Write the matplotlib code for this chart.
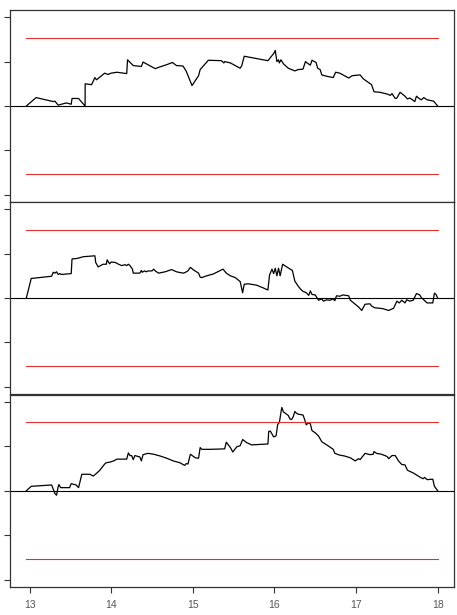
import matplotlib.pyplot as plt
import numpy as np

font = 'Liberation Sans'

# panel 1 process
t1 = [12.96, 13.08, 13.29, 13.31, 13.35, 13.45, 13.51, 13.52, 13.60, 13.68, 13.681,
      13.76, 13.80, 13.82, 13.92, 13.96, 14.00, 14.07, 14.19, 14.20, 14.27, 14.37,
      14.39, 14.45, 14.54, 14.58, 14.68, 14.75, 14.80, 14.88, 14.92, 14.99, 15.07,
      15.09, 15.19, 15.35, 15.38, 15.39, 15.46, 15.54, 15.58, 15.60, 15.63, 15.92,
      15.99, 16.01, 16.03, 16.05, 16.06, 16.08, 16.11, 16.17, 16.25, 16.29, 16.35,
      16.38, 16.40, 16.44, 16.46, 16.51, 16.53, 16.56, 16.58, 16.64, 16.72, 16.75,
      16.80, 16.91, 16.95, 16.99, 17.05, 17.09, 17.19, 17.22, 17.29, 17.38, 17.42,
      17.44, 17.48, 17.50, 17.54, 17.60, 17.63, 17.66, 17.72, 17.74, 17.78, 17.80,
      17.83, 17.87, 17.95, 18.00]
y1 = [0.00, 0.19, 0.10, 0.11, 0.02, 0.07, 0.04, 0.17, 0.17, 0.00, 0.50,
      0.48, 0.64, 0.59, 0.74, 0.71, 0.74, 0.76, 0.73, 1.04, 0.91, 0.89,
      0.99, 0.93, 0.84, 0.87, 0.93, 0.98, 0.91, 0.90, 0.78, 0.46, 0.68,
      0.82, 1.03, 1.02, 0.97, 1.00, 0.97, 0.89, 0.85, 0.91, 1.12, 1.02,
      1.18, 1.25, 1.00, 1.04, 0.97, 1.04, 0.95, 0.85, 0.79, 0.82, 0.83,
      1.00, 0.97, 0.92, 1.03, 0.98, 0.85, 0.82, 0.70, 0.67, 0.64, 0.76,
      0.74, 0.63, 0.68, 0.69, 0.70, 0.61, 0.48, 0.32, 0.31, 0.27, 0.24,
      0.28, 0.17, 0.18, 0.31, 0.22, 0.16, 0.18, 0.10, 0.22, 0.16, 0.14,
      0.19, 0.14, 0.11, 0.00]

# panel 2 process
t2 = [12.96, 13.02, 13.27, 13.29, 13.31, 13.33, 13.35, 13.37, 13.39, 13.51, 13.52,
      13.58, 13.66, 13.80, 13.81, 13.84, 13.90, 13.94, 13.95, 13.98, 14.00, 14.05,
      14.09, 14.13, 14.17, 14.19, 14.21, 14.23, 14.26, 14.27, 14.35, 14.37, 14.38,
      14.41, 14.43, 14.45, 14.50, 14.52, 14.54, 14.58, 14.66, 14.74, 14.80, 14.88,
      14.90, 14.94, 14.97, 15.01, 15.07, 15.09, 15.11, 15.17, 15.25, 15.37, 15.41,
      15.46, 15.52, 15.56, 15.58, 15.61, 15.63, 15.68, 15.78, 15.86, 15.92, 15.94,
      15.97, 15.99, 16.01, 16.03, 16.05, 16.07, 16.10, 16.15, 16.22, 16.25, 16.29,
      16.32, 16.35, 16.39, 16.42, 16.44, 16.46, 16.50, 16.52, 16.54, 16.58, 16.60,
      16.64, 16.68, 16.72, 16.74, 16.76, 16.80, 16.84, 16.91, 16.93, 16.97, 17.03,
      17.07, 17.11, 17.17, 17.19, 17.23, 17.29, 17.33, 17.40, 17.46, 17.50, 17.53,
      17.56, 17.60, 17.62, 17.66, 17.70, 17.74, 17.78, 17.80, 17.87, 17.94, 17.96,
      17.98, 18.00]
y2 = [0.00, 0.44, 0.49, 0.58, 0.56, 0.59, 0.53, 0.55, 0.53, 0.55, 0.88,
      0.89, 0.93, 0.95, 0.80, 0.70, 0.76, 0.76, 0.86, 0.77, 0.81, 0.80,
      0.76, 0.73, 0.75, 0.73, 0.76, 0.73, 0.65, 0.56, 0.56, 0.62, 0.58,
      0.61, 0.59, 0.61, 0.61, 0.65, 0.61, 0.56, 0.59, 0.64, 0.59, 0.56,
      0.57, 0.61, 0.69, 0.63, 0.56, 0.47, 0.46, 0.50, 0.54, 0.65, 0.56,
      0.50, 0.46, 0.40, 0.37, 0.12, 0.31, 0.32, 0.29, 0.23, 0.18, 0.52,
      0.65, 0.55, 0.67, 0.50, 0.67, 0.50, 0.76, 0.70, 0.62, 0.38, 0.27,
      0.20, 0.15, 0.12, 0.06, 0.16, 0.08, 0.07, 0.01, -0.05, -0.02, -0.07,
      -0.04, -0.05, -0.02, -0.06, 0.05, 0.04, 0.07, 0.05, -0.05, -0.11, -0.20,
      -0.28, -0.14, -0.13, -0.18, -0.22, -0.23, -0.24, -0.28, -0.23, -0.07, -0.11,
      -0.05, -0.11, -0.04, -0.07, -0.05, 0.10, 0.07, 0.01, -0.11, -0.11, 0.11,
      0.08, 0.00]

# panel 3 process
t3 = [12.96, 13.02, 13.27, 13.31, 13.33, 13.35, 13.36, 13.38, 13.49, 13.51, 13.57,
      13.60, 13.64, 13.66, 13.74, 13.78, 13.82, 13.86, 13.92, 13.94, 13.98, 14.03,
      14.07, 14.19, 14.21, 14.23, 14.25, 14.27, 14.29, 14.35, 14.37, 14.39, 14.45,
      14.52, 14.60, 14.68, 14.76, 14.84, 14.90, 14.92, 14.94, 14.97, 15.03, 15.07,
      15.09, 15.11, 15.21, 15.39, 15.41, 15.46, 15.49, 15.54, 15.58, 15.61, 15.66,
      15.72, 15.92, 15.93, 15.95, 15.99, 16.02, 16.04, 16.06, 16.09, 16.11, 16.17,
      16.19, 16.21, 16.23, 16.25, 16.27, 16.29, 16.35, 16.37, 16.39, 16.42, 16.44,
      16.46, 16.50, 16.54, 16.58, 16.64, 16.72, 16.74, 16.80, 16.86, 16.93, 16.99,
      17.03, 17.05, 17.11, 17.17, 17.21, 17.22, 17.25, 17.31, 17.38, 17.40, 17.44,
      17.48, 17.52, 17.56, 17.60, 17.63, 17.70, 17.78, 17.82, 17.84, 17.87, 17.94,
      17.96, 18.00]
y3 = [0.00, 0.10, 0.13, -0.06, -0.10, 0.09, 0.14, 0.07, 0.07, 0.16, 0.13,
      0.07, 0.37, 0.37, 0.37, 0.33, 0.39, 0.46, 0.60, 0.63, 0.64, 0.67,
      0.71, 0.71, 0.85, 0.79, 0.79, 0.70, 0.79, 0.76, 0.67, 0.81, 0.84,
      0.82, 0.78, 0.73, 0.67, 0.63, 0.57, 0.61, 0.60, 0.82, 0.74, 0.73,
      0.97, 0.93, 0.93, 0.94, 1.09, 0.97, 0.87, 0.99, 1.01, 1.15, 1.08,
      1.03, 1.05, 1.33, 1.34, 1.21, 1.23, 1.49, 1.53, 1.87, 1.77, 1.69,
      1.61, 1.60, 1.66, 1.78, 1.74, 1.72, 1.70, 1.60, 1.48, 1.53, 1.50,
      1.35, 1.30, 1.23, 1.10, 1.03, 0.93, 0.84, 0.80, 0.78, 0.74, 0.67,
      0.72, 0.70, 0.84, 0.81, 0.82, 0.88, 0.84, 0.82, 0.77, 0.72, 0.79,
      0.79, 0.67, 0.59, 0.58, 0.46, 0.40, 0.31, 0.27, 0.30, 0.25, 0.26,
      0.10, 0.00]

boundary = 1.54
series = [(t1, y1), (t2, y2), (t3, y3)]
xticks = [13, 14, 15, 16, 17, 18]
yticks = [-2, -1, 0, 1, 2]

fig = plt.figure(figsize=(4.57, 6.15), dpi=100)
left, width = 10 / 457, 444 / 457
bottoms = [0.6715, 0.3593, 0.0455]
heights = [0.3122, 0.3122, 0.3130]

for i, (t, y) in enumerate(series):
    ax = fig.add_axes([left, bottoms[i], width, heights[i]])
    ax.plot(t, y, color='black', lw=0.9)
    ax.axhline(0, color='black', lw=0.8)
    ax.plot([t[0], t[-1]], [boundary, boundary], color='#e03030', lw=0.8)
    ax.plot([t[0], t[-1]], [-boundary, -boundary], color='#e03030', lw=0.8)
    ax.set_xlim(12.76, 18.2)
    ax.set_ylim(-2.16, 2.16)
    ax.set_yticks(yticks)
    ax.set_yticklabels([])
    ax.tick_params(axis='y', direction='out', length=4, width=0.8, color='#333333')
    for s in ax.spines.values():
        s.set_color('#333333')
        s.set_linewidth(0.9)
    if i < 2:
        ax.set_xticks([])
    else:
        ax.set_xticks(xticks)
        ax.set_xticklabels([str(v) for v in xticks], fontsize=7.5, fontname=font,
                           color='#555555')
        ax.tick_params(axis='x', direction='out', length=4, width=0.8,
                       color='#333333', pad=5)

plt.savefig('out.png', dpi=100)
